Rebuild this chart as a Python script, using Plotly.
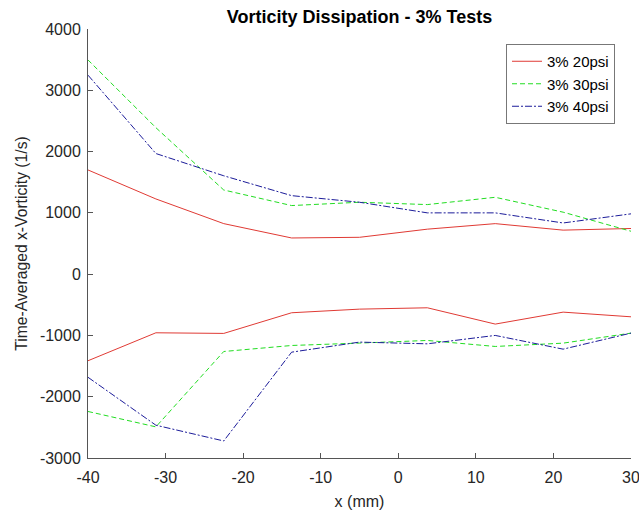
import plotly.graph_objects as go

x_mm = [-40, -31.25, -22.5, -13.75, -5, 3.75, 12.5, 21.25, 30]

psi20_upper = [1700, 1227, 824, 590, 601, 734, 824, 718, 745]
psi20_lower = [-1413, -957, -967, -630, -571, -549, -815, -620, -696]
psi30_upper = [3495, 2390, 1373, 1119, 1173, 1135, 1254, 1011, 700]
psi30_lower = [-2241, -2492, -1262, -1164, -1125, -1082, -1180, -1126, -962]
psi40_upper = [3247, 1968, 1605, 1281, 1173, 1000, 1000, 835, 984]
psi40_lower = [-1683, -2465, -2722, -1273, -1109, -1137, -1000, -1224, -962]

x_ticks = [-40, -30, -20, -10, 0, 10, 20, 30]
y_ticks = [-3000, -2000, -1000, 0, 1000, 2000, 3000, 4000]

names = ["3% 20psi", "3% 30psi", "3% 40psi"]
colors = ["#e03a34", "#22dd22", "#1c1c9a"]
dashes = ["solid", "5px,3px", "7px,2px,2px,2px"]
uppers = [psi20_upper, psi30_upper, psi40_upper]
lowers = [psi20_lower, psi30_lower, psi40_lower]

FONT = "Liberation Sans, Arial, sans-serif"

fig = go.Figure()
for name, c, d, up, lo in zip(names, colors, dashes, uppers, lowers):
    fig.add_trace(go.Scatter(
        x=x_mm + [None] + x_mm,
        y=up + [None] + lo,
        mode="lines", name=name,
        line=dict(color=c, width=1, dash=d),
    ))

axis_common = dict(
    showgrid=False, zeroline=False, showline=True, linecolor="#555555",
    linewidth=1, ticks="inside", ticklen=5, tickcolor="#555555",
    tickfont=dict(family=FONT, size=16, color="#262626"),
    mirror=False, automargin=False, ticklabeloverflow="allow",
)

fig.update_layout(
    width=639, height=512,
    margin=dict(l=88, r=8, t=29, b=54),
    paper_bgcolor="white", plot_bgcolor="white",
    title=dict(text="<b>Vorticity Dissipation - 3% Tests</b>",
               x=(88 + 631) / 2 / 639, xanchor="center", y=1 - 17 / 512, yanchor="middle",
               font=dict(family=FONT, size=18, color="black")),
    xaxis=dict(range=[-40, 30], tickvals=x_ticks,
               ticktext=[str(v) for v in x_ticks], ticklabelstandoff=5,
               title=dict(text="x (mm)", standoff=10,
                          font=dict(family=FONT, size=16, color="#262626")),
               **axis_common),
    yaxis=dict(range=[-3000, 4000], tickvals=y_ticks,
               ticktext=[str(v) for v in y_ticks], ticklabelstandoff=3,
               title=dict(text="Time-Averaged x-Vorticity (1/s)", standoff=8,
                          font=dict(family=FONT, size=15.7, color="#262626")),
               **axis_common),
    legend=dict(x=(615 - 88) / 543, y=(458 - 44) / 429, xanchor="right", yanchor="top",
                bgcolor="white", bordercolor="#777777", borderwidth=1,
                font=dict(family=FONT, size=15, color="black"),
                tracegroupgap=0, itemwidth=30),
    showlegend=True,
)

fig.write_html("out.html", config={"displayModeBar": False},
               post_script="document.body.style.margin='0';document.body.style.overflow='hidden';")
